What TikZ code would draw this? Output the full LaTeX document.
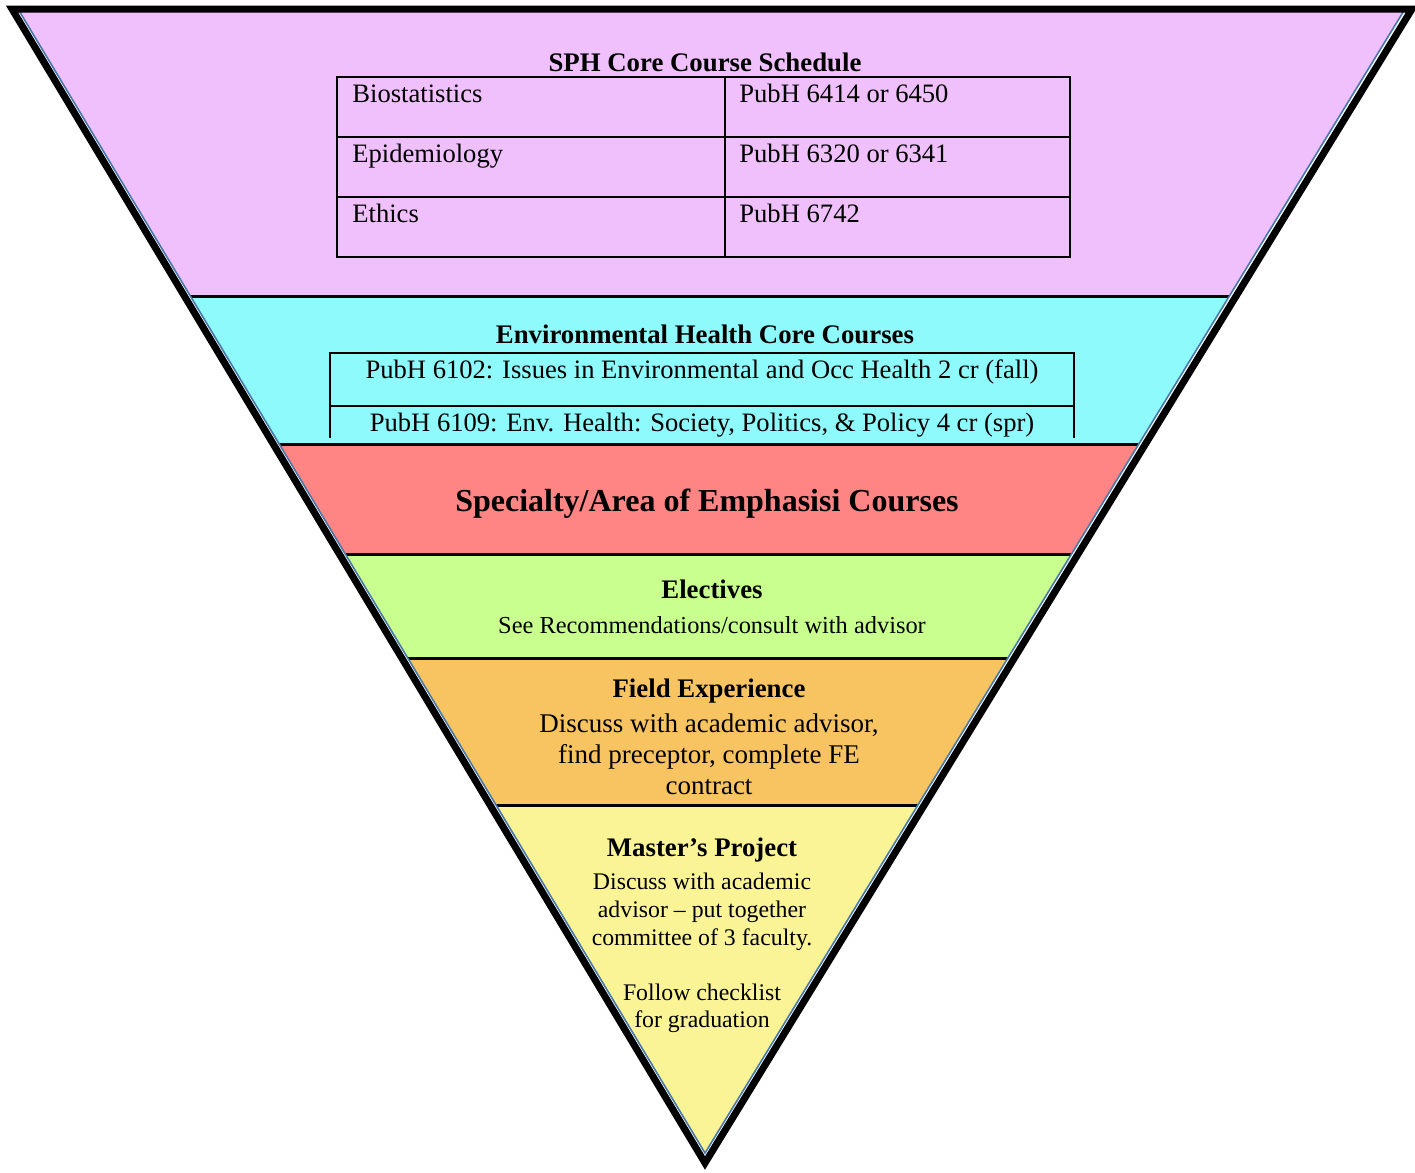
\documentclass[tikz,border=0pt]{standalone}
\usepackage{fontspec}
\setmainfont{Liberation Serif}

\definecolor{bandpurple}{RGB}{240,192,252}
\definecolor{bandcyan}{RGB}{143,250,252}
\definecolor{bandred}{RGB}{255,133,133}
\definecolor{bandgreen}{RGB}{200,255,142}
\definecolor{bandorange}{RGB}{248,196,98}
\definecolor{bandyellow}{RGB}{250,244,150}
\definecolor{edgeblue}{RGB}{70,120,170}

\tikzset{
  cell/.style={anchor=base west, inner sep=0pt, font=\fontsize{13.3}{15}\selectfont},
  course/.style={anchor=base, inner sep=0pt, font=\fontsize{13.3}{15}\selectfont},
  heading/.style={anchor=base, inner sep=0pt, font=\fontsize{13.4}{15}\selectfont\bfseries},
  body/.style={anchor=north, inner sep=0pt, align=center},
}

\begin{document}
\begin{tikzpicture}[x=0.5pt,y=-0.5pt]
  \useasboundingbox (0,0) rectangle (1415,1173);

  % outer and inner corners of the funnel
  \coordinate (tl) at (12,9);
  \coordinate (tr) at (1412,9);
  \coordinate (tip) at (705,1163);
  \coordinate (itl) at (18,9);
  \coordinate (itr) at (1405,9);
  \coordinate (itip) at (705,1153);

  % coloured bands
  \begin{scope}
    \clip (itl) -- (itr) -- (itip) -- cycle;
    \foreach \ya/\yb/\col in {9/296/bandpurple, 296/444/bandcyan, 444/554/bandred,
                              554/658/bandgreen, 658/805/bandorange, 805/1173/bandyellow}
      \fill[\col] (0,\ya) rectangle (1415,\yb);
    \foreach \y in {296,444,554,658,805}
      \draw[line width=1.5pt] (0,\y) -- (1415,\y);
  \end{scope}
  \draw[edgeblue, line width=0.8pt] (itl) -- (itip) -- (itr);
  \draw[line width=3.5pt, line join=miter] (tl) -- (tr) -- (tip) -- cycle;

  % SPH core table
  \node[heading] (sph) at (705,71) {SPH Core Course Schedule};
  \draw[line width=1pt] (337,77) rectangle (1070,257);
  \draw[line width=1pt] (725,77) -- (725,257);
  \draw[line width=1pt] (337,137) -- (1070,137);
  \draw[line width=1pt] (337,197) -- (1070,197);
  \node[cell] (bio) at (352,102) {Biostatistics};
  \node[cell] (biocode) at (739,102) {PubH 6414 or 6450};
  \node[cell] (epi) at (352,162) {Epidemiology};
  \node[cell] (epicode) at (739,162) {PubH 6320 or 6341};
  \node[cell] (eth) at (352,222) {Ethics};
  \node[cell] (ethcode) at (739,222) {PubH 6742};

  % environmental health core
  \node[heading] (envh) at (705,343) {Environmental Health Core Courses};
  \draw[line width=1pt] (330,438) -- (330,353) -- (1074,353) -- (1074,438);
  \draw[line width=1pt] (330,406) -- (1074,406);
  \node[course] (c6102) at (702,378) {PubH 6102: Issues in Environmental and Occ Health 2 cr (fall)};
  \node[course] (c6109) at (702,431) {PubH 6109: Env. Health: Society, Politics, \& Policy 4 cr (spr)};

  % specialty
  \node[heading, font=\fontsize{16}{18}\selectfont\bfseries] (spec) at (707,511)
    {Specialty/Area of Emphasisi Courses};

  % electives
  \node[heading] (elec) at (712,598) {Electives};
  \node[course, font=\fontsize{12.2}{14}\selectfont] (elecnote) at (712,633)
    {See Recommendations/consult with advisor};

  % field experience
  \node[heading] (fe) at (709,697) {Field Experience};
  \node[body, font=\fontsize{13.5}{15.5}\selectfont] (fenote) at (709,713)
    {Discuss with academic advisor,\\ find preceptor, complete FE\\ contract};

  % master's project
  \node[heading] (mp) at (702,856) {Master’s Project};
  \node[body, font=\fontsize{11.9}{13.8}\selectfont] (mpnote) at (702,873)
    {Discuss with academic\\ advisor -- put together\\ committee of 3 faculty.\\[13.8pt]
     Follow checklist\\ for graduation};
\end{tikzpicture}
\end{document}
